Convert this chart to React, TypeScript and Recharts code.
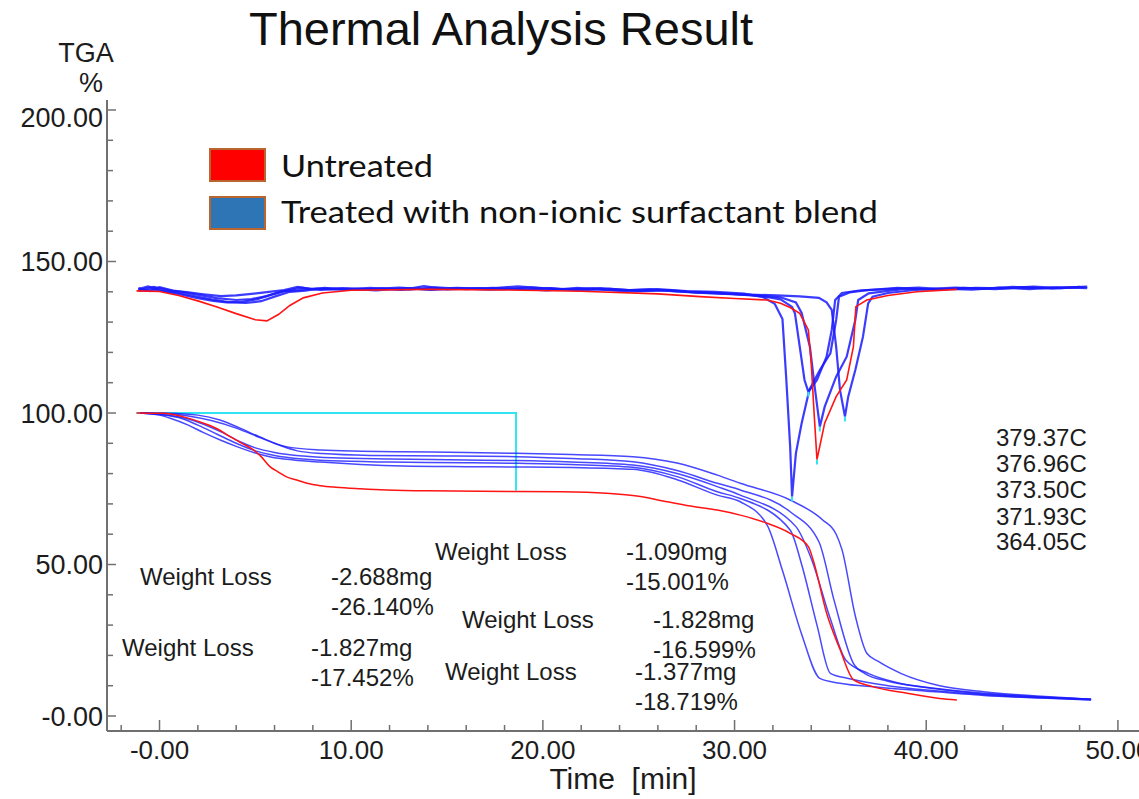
import React from 'react';
import { LineChart, Line, XAxis, YAxis } from 'recharts';

// ---- TGA weight curves (time [min], weight [%]) ----
const tgaUntreated: number[][] = [
  [-1.2, 100], [0.2, 99.9], [1.2, 98.8], [2.3, 96.6], [3, 94.8], [3.68, 92.2], [4.3, 90], [4.9, 87.8],
  [5.3, 85.6], [5.76, 82.3], [6.2, 80.5], [6.6, 79], [7.2, 77.8], [7.7, 76.8], [8.4, 76], [9.2, 75.5],
  [10.5, 75], [11.85, 74.6], [14, 74.3], [18.6, 74.1], [21, 74], [23.3, 73.5], [25, 72.5], [26.5, 70.7],
  [28, 69], [29.1, 68], [30.3, 66.3], [31.7, 63.6], [32.9, 60.3], [33.85, 55.9], [34.1, 51.5], [34.8, 34],
  [35.5, 22], [36.2, 12], [37.2, 9.7], [39, 7.5], [40.7, 5.8], [41.6, 5.3],
];

const tgaTreatedA: number[][] = [
  [-1, 100], [0.5, 99.9], [2, 99.3], [3.15, 97.7], [4.2, 95], [5.2, 92.2], [6.6, 88.9], [8.4, 87.8],
  [10.5, 87.4], [12.7, 87.2], [16, 87], [18.6, 86.7], [21.5, 86.3], [24.7, 85.6], [27, 83.5], [29.1, 79.5],
  [30.3, 76.8], [32.9, 71.3], [34.6, 64.7], [35.3, 60], [35.6, 55], [36.3, 33], [36.9, 20.7], [37.5, 18],
  [38.7, 14], [40.7, 10], [43, 8], [46, 6.5], [48.6, 5.5],
];

const tgaTreatedB: number[][] = [
  [-1, 100], [0.3, 99.8], [1.5, 99], [2.7, 97.5], [4, 95], [5.2, 92], [6.2, 89.5], [7.2, 87.5],
  [8.5, 86.6], [11, 86], [15, 85.8], [18.6, 85.6], [21.5, 85], [24.7, 83.9], [27, 81], [29.1, 76.8],
  [30.3, 74.6], [32.9, 67.4], [34.4, 57.5], [35.2, 38], [36.2, 17.4], [36.8, 14], [38, 11.5], [40, 9.5],
  [43, 7.5], [46, 6.3], [48.6, 5.5],
];

const tgaTreatedC: number[][] = [
  [-1, 100], [0, 99.6], [1.2, 98.5], [2.3, 96.3], [3.3, 93.5], [4.2, 90.5], [5, 88.5], [6, 87],
  [7.5, 85.8], [9, 85.2], [12, 84.8], [16, 84.5], [18.6, 84.3], [21.5, 83.8], [24.7, 82.8], [27, 80],
  [29.1, 75.7], [30.3, 72.9], [33.2, 62.5], [34, 52], [35, 32], [35.8, 18.5], [37, 14], [38.5, 11],
  [40.5, 9], [43, 7.3], [46, 6.2], [48.6, 5.5],
];

const tgaTreatedD: number[][] = [
  [-1, 100], [0, 99.5], [1, 98.5], [2, 96], [3, 93], [4, 90], [5, 87.5], [6, 86],
  [7.5, 84.8], [9, 84.2], [12, 83.8], [16, 83.6], [18.6, 83.4], [21.5, 83], [24.7, 82.1], [27, 79],
  [29.1, 74], [30.3, 71.8], [32.9, 61.4], [33.5, 50], [34.3, 30], [35, 14.1], [36, 12.3], [38, 10],
  [40.5, 8.3], [43, 7], [46, 6], [48.6, 5.4],
];

const tgaTreatedE: number[][] = [
  [-1, 100], [0, 99.3], [0.6, 98.2], [1.5, 96], [2.3, 93.5], [3.2, 91], [4, 89], [5, 86.8],
  [5.8, 85.5], [7, 84.5], [8.4, 83.8], [10.5, 83], [12.7, 82.5], [16, 82.3], [18.6, 82.2], [21.5, 82],
  [24.7, 81.4], [27, 78], [29.1, 72.9], [30.3, 70.7], [31.7, 63], [32.5, 48], [33.5, 27], [34.45, 12.4],
  [35.5, 10.8], [37.5, 9.5], [40, 8.2], [43, 6.8], [46, 5.9], [48.6, 5.3],
];

// ---- derivative curves, drawn with a +140 offset ----
const dtgUntreated: number[][] = [
  [-1.2, 140.3], [0, 140.1], [1, 138.8], [2, 137], [3, 135], [4, 132.8], [5, 130.8], [5.6, 130.4],
  [6.2, 132.5], [6.8, 135.5], [7.5, 138], [8.5, 139.6], [10, 140.5], [14, 140.8], [18, 140.6], [22, 140.2],
  [26, 139.3], [28.2, 138.4], [30, 137.8], [31.7, 137.3], [32.4, 136.2], [32.9, 134.8], [33.4, 132.9],
  [33.85, 127.4], [34.0, 116.4], [34.15, 99.9], [34.3, 84.6], [34.7, 96.6], [35.3, 105.4], [35.85, 110.9],
  [36.2, 121.9], [36.33, 135.1], [36.9, 137.3], [38, 138.8], [39.5, 140], [41.6, 140.8],
];

const dtgTreatedA: number[][] = [
  [-1.1, 141.2], [-0.5, 140.2], [0, 141.5], [0.7, 140.4], [1.5, 139.8], [2.3, 139.2], [3.2, 138.6], [4, 138.8],
  [4.8, 139.3], [5.6, 139.9], [6.5, 140.6], [7.2, 141.6], [8, 140.8], [9.5, 141.2], [11, 140.9], [12.5, 141.4],
  [14, 140.8], [15.5, 141.3], [17, 141], [18.7, 141.8], [20, 141.1], [21.5, 140.7], [23, 141.2], [24.5, 140.6],
  [26, 140.9], [27.5, 140.2], [29, 140], [30.5, 139.4], [31.5, 138.2], [32.1, 136], [32.5, 131], [32.7, 111],
  [32.9, 89], [33.0, 72.4], [33.2, 86.7], [33.5, 96.6], [33.9, 107.6], [34.45, 114.2], [35.0, 119.7],
  [35.3, 130.7], [35.45, 138.4], [36, 139.8], [37, 140.6], [38.5, 141.3], [40, 140.9], [41.5, 141.4],
  [43, 141], [44.5, 141.6], [46, 141.2], [47.5, 141.5], [48.4, 141.7],
];

const dtgTreatedB: number[][] = [
  [-1.1, 140.6], [-0.3, 141.6], [0.5, 140.5], [1.3, 139.8], [2.2, 138.8], [3, 137.9], [4, 137.3], [4.8, 137.6],
  [5.6, 138.6], [6.4, 140.2], [7.2, 140.5], [8.2, 141.1], [9.6, 140.7], [11, 141.3], [12.6, 140.6], [13.8, 141.9],
  [15, 140.8], [16.6, 141.2], [18, 140.9], [19.4, 141.5], [21, 140.8], [22.6, 141.1], [24, 140.4], [25.6, 140.8],
  [27, 140.1], [28.6, 139.8], [30, 139.2], [31.4, 138.6], [32.4, 137.5], [33.0, 135], [33.15, 132.9],
  [33.4, 121.9], [33.65, 110.9], [33.85, 107], [34.3, 110.9], [34.8, 118.6], [35.07, 127.4], [35.25, 137.3],
  [35.6, 139.6], [36.6, 140.5], [38, 140.9], [39.6, 141.4], [41, 140.8], [42.6, 141.3], [44, 141.1],
  [45.6, 141.7], [47, 141.2], [48.3, 141.5],
];

const dtgTreatedC: number[][] = [
  [-1.1, 140.9], [-0.6, 141.8], [0.2, 140.3], [1, 139.6], [1.8, 138.6], [2.7, 137.5], [3.6, 136.6], [4.5, 136.3],
  [5.3, 136.9], [6, 138.4], [6.8, 140], [7.6, 140.4], [8.6, 141.3], [10, 140.6], [11.6, 141.1], [13, 140.7],
  [14.4, 141.5], [16, 140.9], [17.4, 141.3], [19, 140.7], [20.4, 141.2], [22, 140.5], [23.5, 141], [25, 140.3],
  [26.6, 140.6], [28, 139.7], [29.5, 139.3], [31, 138.9], [32.4, 138.2], [33.2, 136.5], [33.5, 133],
  [33.93, 121.9], [34.2, 107.6], [34.45, 95.5], [34.7, 102], [35.3, 112], [35.85, 118.6], [36.3, 130.7],
  [36.45, 137.3], [37, 139.5], [38, 140.3], [39, 141], [40.6, 140.7], [42, 141.3], [43.6, 140.9],
  [45, 141.5], [46.6, 141], [48, 141.6],
];

const dtgTreatedD: number[][] = [
  [-1.1, 140.3], [-0.4, 140.9], [0.4, 140], [1.2, 139], [2, 137.9], [2.8, 137], [3.5, 136.5], [4.3, 136.7],
  [5.1, 137.6], [5.8, 139], [6.6, 140.3], [7.4, 141.4], [8.4, 140.6], [9.8, 141], [11.3, 140.5], [12.8, 141.2],
  [14.2, 140.6], [15.7, 141.1], [17.2, 140.7], [18.6, 141], [20.2, 140.5], [21.8, 141.3], [23.2, 140.6],
  [24.8, 140.1], [26.2, 140.5], [27.8, 139.8], [29.3, 139.5], [30.8, 139.1], [32.2, 138.8], [33.4, 138.5],
  [34.4, 138], [34.8, 136.5], [35.07, 134], [35.3, 121.9], [35.5, 107.6], [35.76, 98.8], [35.93, 105.4],
  [36.3, 114.2], [36.7, 125.2], [36.97, 136.2], [37.2, 138.4], [38, 139.6], [39.4, 140.6], [40.8, 141],
  [42.4, 140.7], [43.8, 141.4], [45.4, 140.9], [46.8, 141.5], [48.4, 141.2],
];

// peak minima of the derivative curves (time, value)
const dtgPeaks: number[][] = [
  [33.0, 72.4], [33.85, 107], [34.3, 84.6], [34.45, 95.5], [35.76, 98.8],
];

// weight-loss integration step
const stepLine: number[][] = [[-1.2, 100], [18.6, 100], [18.6, 74.4]];

// axis ticks and labels
const xTicks = [-2, 0, 2, 4, 6, 8, 10, 12, 14, 16, 18, 20, 22, 24, 26, 28, 30, 32, 34, 36, 38, 40, 42, 44, 46, 48, 50];
const xMajorValues = [0, 10, 20, 30, 40, 50];
const xMajorLabels = ['-0.00', '10.00', '20.00', '30.00', '40.00', '50.00'];
const yTicks = [0, 10, 20, 30, 40, 50, 60, 70, 80, 90, 100, 110, 120, 130, 140, 150, 160, 170, 180, 190, 200];
const yMajorValues = [0, 50, 100, 150, 200];
const yMajorLabels = ['-0.00', '50.00', '100.00', '150.00', '200.00'];

// annotations
const weightLossNotes = [
  { mg: '-2.688mg', pct: '-26.140%' },
  { mg: '-1.827mg', pct: '-17.452%' },
  { mg: '-1.090mg', pct: '-15.001%' },
  { mg: '-1.828mg', pct: '-16.599%' },
  { mg: '-1.377mg', pct: '-18.719%' },
];
const peakTemps = ['379.37C', '376.96C', '373.50C', '371.93C', '364.05C'];

const toPts = (rows: number[][]) => rows.map(([t, v]) => ({ t, v }));

const RED = '#ff1414';
const BLUE = '#1a1aff';
const CYAN = '#2ee6f2';
const AXIS = '#707070';
const FONT = '"Liberation Sans", Arial, sans-serif';

const W = 1139;
const H = 799;

const XTick = (props: any) => {
  const { x, y, payload } = props;
  const idx = xMajorValues.indexOf(payload.value);
  const major = idx >= 0;
  return (
    <g>
      <line x1={x} x2={x} y1={y} y2={y - (major ? 11 : 6)} stroke={AXIS} strokeWidth={1.5} />
      {major && (
        <text x={x} y={y + 28} textAnchor="middle" fontSize={26} fontFamily={FONT} fill="#1c1c1c">
          {xMajorLabels[idx]}
        </text>
      )}
    </g>
  );
};

const YTick = (props: any) => {
  const { x, y, payload } = props;
  const idx = yMajorValues.indexOf(payload.value);
  const major = idx >= 0;
  const shift = payload.value === 200 ? 8 : 0;
  return (
    <g>
      <line x1={x} x2={x + (major ? 9 : 6)} y1={y} y2={y} stroke={AXIS} strokeWidth={1.5} />
      {major && (
        <text x={x - 4} y={y + 9.5 + shift} textAnchor="end" fontSize={27} fontFamily={FONT} fill="#1c1c1c">
          {yMajorLabels[idx]}
        </text>
      )}
    </g>
  );
};

const tgaTreated = [tgaTreatedA, tgaTreatedB, tgaTreatedC, tgaTreatedD, tgaTreatedE];
const dtgTreated = [dtgTreatedA, dtgTreatedB, dtgTreatedC, dtgTreatedD];

// layout of the weight-loss blocks: label x, value x, first row y
const noteLayout = [
  { lx: 140, vx: 331, y: 576 },
  { lx: 122, vx: 311, y: 647 },
  { lx: 435, vx: 626, y: 551 },
  { lx: 462, vx: 653, y: 619 },
  { lx: 445, vx: 635, y: 671 },
];
const tempRowsY = [437, 463, 489, 516, 541];

export default function App() {
  return (
    <div style={{ position: 'absolute', left: 0, top: 0, width: W, height: H, background: '#fff', overflow: 'hidden' }}>
      <LineChart width={W} height={H} margin={{ top: 100, right: 0, left: 0, bottom: 0 }}>
        <XAxis
          dataKey="t"
          type="number"
          domain={[-2.74, 51.1]}
          allowDataOverflow
          ticks={xTicks}
          interval={0}
          height={68}
          tickSize={0}
          tickMargin={0}
          tickLine={false}
          tick={<XTick />}
          axisLine={{ stroke: AXIS, strokeWidth: 2 }}
        />
        <XAxis
          xAxisId="top"
          orientation="top"
          dataKey="t"
          type="number"
          domain={[-2.74, 51.1]}
          height={0}
          tick={false}
          tickLine={false}
          axisLine={{ stroke: AXIS, strokeWidth: 2 }}
        />
        <YAxis
          dataKey="v"
          type="number"
          domain={[-4.95, 203.3]}
          allowDataOverflow
          ticks={yTicks}
          interval={0}
          width={107}
          tickSize={0}
          tickMargin={0}
          tickLine={false}
          tick={<YTick />}
          axisLine={{ stroke: AXIS, strokeWidth: 2 }}
        />

        <Line data={toPts(stepLine)} dataKey="v" type="linear" stroke={CYAN} strokeWidth={2} dot={false} activeDot={false} isAnimationActive={false} />

        {dtgTreated.map((d, i) => (
          <Line key={'dtg' + i} data={toPts(d)} dataKey="v" type="linear" stroke={BLUE} strokeOpacity={0.85} strokeWidth={2.2} dot={false} activeDot={false} isAnimationActive={false} />
        ))}
        <Line data={toPts(dtgUntreated)} dataKey="v" type="linear" stroke={RED} strokeWidth={1.6} dot={false} activeDot={false} isAnimationActive={false} />

        {tgaTreated.map((d, i) => (
          <Line key={'tga' + i} data={toPts(d)} dataKey="v" type="monotone" stroke={BLUE} strokeOpacity={0.8} strokeWidth={1.5} dot={false} activeDot={false} isAnimationActive={false} />
        ))}
        <Line data={toPts(tgaUntreated)} dataKey="v" type="monotone" stroke={RED} strokeWidth={1.5} dot={false} activeDot={false} isAnimationActive={false} />

        {dtgPeaks.map(([t, v], i) => (
          <Line key={'pk' + i} data={[{ t, v }, { t, v: v - 1.6 }]} dataKey="v" type="linear" stroke={CYAN} strokeWidth={2} dot={false} activeDot={false} isAnimationActive={false} />
        ))}
      </LineChart>

      <svg width={W} height={H} style={{ position: 'absolute', left: 0, top: 0, pointerEvents: 'none' }}>
        <text x={501} y={45} textAnchor="middle" fontSize={47} fontFamily={FONT} fill="#111">Thermal Analysis Result</text>
        <text x={86} y={62} textAnchor="middle" fontSize={27} fontFamily={FONT} fill="#1c1c1c">TGA</text>
        <text x={91} y={92} textAnchor="middle" fontSize={27} fontFamily={FONT} fill="#1c1c1c">%</text>
        <text x={623} y={789} textAnchor="middle" fontSize={30} fontFamily={FONT} fill="#1c1c1c">{'Time\u00a0\u00a0[min]'}</text>

        <rect x={210} y={149} width={55} height={32} fill="#ff0000" stroke="#b9652f" strokeWidth={2} />
        <rect x={210} y={197} width={55} height={32} fill="#2e75b6" stroke="#b9652f" strokeWidth={2} />
        <text x={281} y={177} fontSize={31} fontFamily="Lato, 'Open Sans', sans-serif" fill="#111" textLength={152} lengthAdjust="spacingAndGlyphs">Untreated</text>
        <text x={281} y={223} fontSize={31} fontFamily="Lato, 'Open Sans', sans-serif" fill="#111" textLength={597} lengthAdjust="spacingAndGlyphs">Treated with non-ionic surfactant blend</text>

        {weightLossNotes.map((n, i) => {
          const L = noteLayout[i];
          return (
            <g key={'wl' + i} fontSize={24} fontFamily={FONT} fill="#1c1c1c">
              <text x={L.lx} y={L.y + 8.5}>Weight Loss</text>
              <text x={L.vx} y={L.y + 8.5}>{n.mg}</text>
              <text x={L.vx} y={L.y + 38.5}>{n.pct}</text>
            </g>
          );
        })}

        {peakTemps.map((s, i) => (
          <text key={'pt' + i} x={996} y={tempRowsY[i] + 8.5} fontSize={24} fontFamily={FONT} fill="#1c1c1c">{s}</text>
        ))}
      </svg>
    </div>
  );
}
